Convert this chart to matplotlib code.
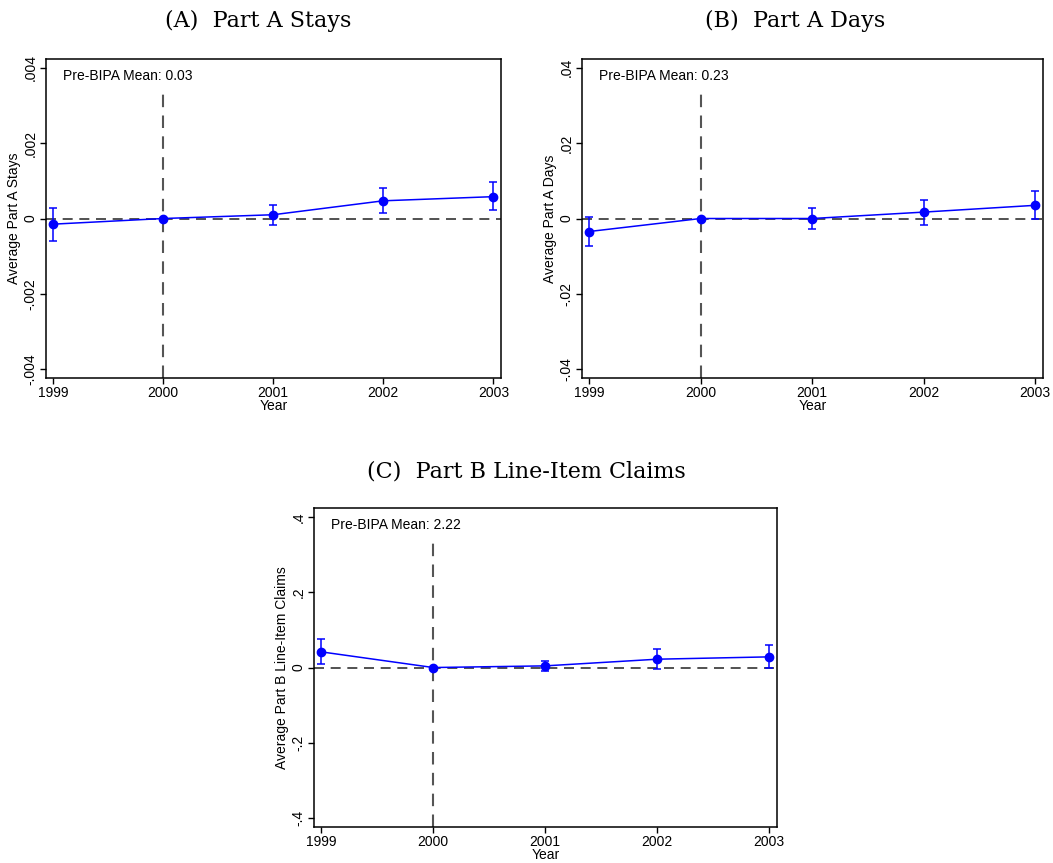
import matplotlib.pyplot as plt
import numpy as np

# =====================================================
# DATA
# =====================================================

years = [1999, 2000, 2001, 2002, 2003]

stays_coef = [-0.00015, 0.0, 0.0001, 0.00047, 0.00058]
stays_lo = [-0.00061, 0.0, -0.00017, 0.00014, 0.00022]
stays_hi = [0.00029, 0.0, 0.00036, 0.00081, 0.00096]

days_coef = [-0.00345, 0.0, 0.0, 0.0017, 0.0035]
days_lo = [-0.0073, 0.0, -0.0028, -0.0016, -0.0002]
days_hi = [0.0003, 0.0, 0.0029, 0.005, 0.0072]

claims_coef = [0.0416, 0.0, 0.0044, 0.0221, 0.0283]
claims_lo = [0.0106, 0.0, -0.0088, -0.0044, -0.0018]
claims_hi = [0.075, 0.0, 0.0177, 0.0487, 0.060]

panel_titles = ["(A)  Part A Stays", "(B)  Part A Days", "(C)  Part B Line-Item Claims"]
y_labels = ["Average Part A Stays", "Average Part A Days", "Average Part B Line-Item Claims"]
pre_means = ["0.03", "0.23", "2.22"]
y_ticks = [
    ([-0.004, -0.002, 0, 0.002, 0.004], ["-.004", "-.002", "0", ".002", ".004"]),
    ([-0.04, -0.02, 0, 0.02, 0.04], ["-.04", "-.02", "0", ".02", ".04"]),
    ([-0.4, -0.2, 0, 0.2, 0.4], ["-.4", "-.2", "0", ".2", ".4"]),
]

plt.rcParams["font.family"] = ["Liberation Sans", "DejaVu Sans"]

W, H = 1053, 863
fig = plt.figure(figsize=(W / 100, H / 100), dpi=100)

# axes rectangles in figure fractions
positions = [
    [0.0437, 0.562, 0.4321, 0.3696],
    [0.5527, 0.562, 0.4378, 0.3696],
    [0.2982, 0.0417, 0.4397, 0.3696],
]

# title anchors (pixel x centre, pixel baseline)
title_xy = [(258, 27), (795, 27), (526, 477)]

series = [
    (stays_coef, stays_lo, stays_hi),
    (days_coef, days_lo, days_hi),
    (claims_coef, claims_lo, claims_hi),
]

for k in range(3):
    ax = fig.add_axes(positions[k])
    coef, lo, hi = [np.array(s) for s in series[k]]
    ticks, labels = y_ticks[k]
    top = ticks[-1] * 1.058

    ax.axhline(0, color="#333333", linestyle=(0, (6, 4)), linewidth=1.2, zorder=1)
    ax.axvline(2000, ymax=0.906, color="#555555", linestyle=(0, (6, 4)),
               linewidth=1.5, zorder=1)

    yerr = np.vstack([coef - lo, hi - coef])
    ax.errorbar(years, coef, yerr=yerr, fmt="none", ecolor="blue",
                elinewidth=1.1, capsize=3, capthick=1.1, zorder=2)
    ax.plot(years, coef, color="blue", linewidth=1.1, marker="o",
            markersize=6, zorder=3)

    ax.set_xlim(1998.936, 2003.07)
    ax.set_ylim(-top, top)

    ax.set_xticks(years)
    ax.set_xticklabels([str(y) for y in years], fontsize=10)
    ax.set_yticks(ticks)
    ax.set_yticklabels(labels, fontsize=10, rotation=90, va="center")

    ax.tick_params(direction="out", length=4, width=1, pad=2)
    ax.set_xlabel("Year", fontsize=10, labelpad=-1)
    ax.set_ylabel(y_labels[k], fontsize=10, labelpad=2)

    for spine in ax.spines.values():
        spine.set_linewidth(1.1)

    ax.text(0.037, 0.947, "Pre-BIPA Mean: " + pre_means[k],
            transform=ax.transAxes, fontsize=10, va="center", ha="left")

    tx, ty = title_xy[k]
    fig.text(tx / W, 1 - ty / H, panel_titles[k], fontsize=16,
             family="DejaVu Serif", ha="center", va="baseline")

plt.savefig("out.png", dpi=100)
